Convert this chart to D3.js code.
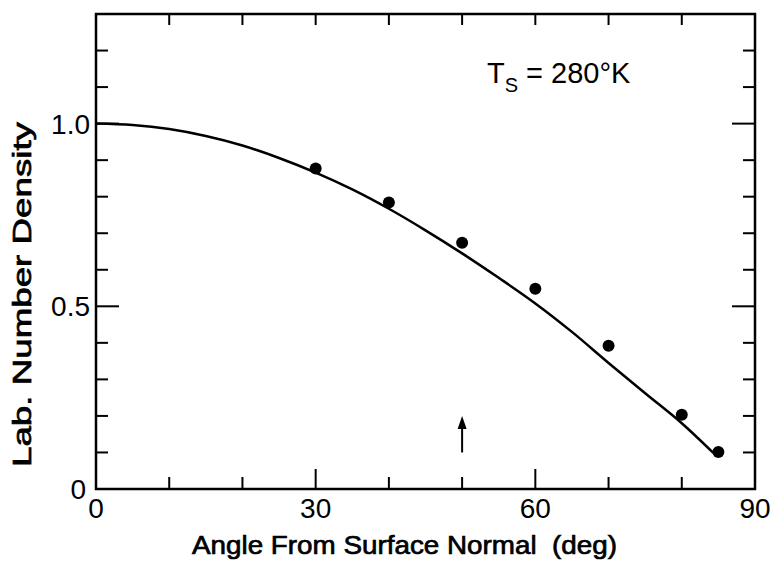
<!DOCTYPE html>
<html lang="en">
  <head>
    <meta charset="utf-8">
    <title>Lab. Number Density</title>
    <script src="https://cdnjs.cloudflare.com/ajax/libs/d3/7.8.5/d3.min.js"></script>
    <style type="text/css">
      body { margin: 0; background: #fff; }
      text { font-family: "Liberation Sans", Arial, sans-serif; fill: #000; }
    </style>
  </head>
  <body>
    <script type="text/javascript">
    // chart values
    var angles = [30, 40, 50, 60, 70, 80, 85];
    var density = [0.877, 0.784, 0.674, 0.548, 0.392, 0.203, 0.101];

    // the solid theory curve
    var curveAngles = [0, 5, 10, 15, 20, 25, 30, 35, 40, 45, 50, 55, 60, 65, 70, 75, 80, 84.3];
    var curveDensity = [1.0, 0.996, 0.985, 0.966, 0.94, 0.906, 0.866, 0.82, 0.767, 0.708, 0.645, 0.578, 0.508, 0.43, 0.345, 0.262, 0.18, 0.099];

    var xTickLabels = [0, 30, 60, 90];
    var yTickLabels = [0, 0.5, 1.0];
    var arrowAt = [50, 0.1, 0.2];  // angle, from, to

    var w = 772;
    var h = 561;

    var x = d3.scaleLinear().domain([0, 90]).range([96, 755]);
    var y = d3.scaleLinear().domain([0, 1.3]).range([489, 14]);

    var svg = d3.select("body")
                .append("svg")
                .attr("width", w)
                .attr("height", h);

    var xMinor = d3.range(0, 91, 10);
    var yMinor = d3.range(0, 13).map(function(d) { return d / 10; });

    // inward ticks, majors a bit longer
    function xLen(d) { return (d == 30 || d == 60) ? 20 : 12; }
    function yLen(d) { return (Math.abs(d - 0.5) < 1e-6 || Math.abs(d - 1) < 1e-6) ? 23 : 12; }

    var ticks = svg.append("g").attr("stroke", "#000").attr("stroke-width", 2);
    ticks.selectAll(".xb").data(xMinor.slice(1, -1)).enter().append("line")
       .attr("x1", function(d) { return x(d); }).attr("x2", function(d) { return x(d); })
       .attr("y1", y(0)).attr("y2", function(d) { return y(0) - xLen(d); });
    ticks.selectAll(".xt").data(xMinor.slice(1, -1)).enter().append("line")
       .attr("x1", function(d) { return x(d); }).attr("x2", function(d) { return x(d); })
       .attr("y1", y(1.3)).attr("y2", function(d) { return y(1.3) + 11; });
    ticks.selectAll(".yl").data(yMinor.slice(1)).enter().append("line")
       .attr("x1", x(0)).attr("x2", function(d) { return x(0) + yLen(d); })
       .attr("y1", function(d) { return y(d); }).attr("y2", function(d) { return y(d); });
    ticks.selectAll(".yr").data(yMinor.slice(1)).enter().append("line")
       .attr("x1", x(90)).attr("x2", function(d) { return x(90) - yLen(d); })
       .attr("y1", function(d) { return y(d); }).attr("y2", function(d) { return y(d); });

    // frame
    svg.append("rect")
       .attr("x", x(0)).attr("y", y(1.3))
       .attr("width", x(90) - x(0)).attr("height", y(0) - y(1.3))
       .attr("fill", "none").attr("stroke", "#000").attr("stroke-width", 2.5);

    // tick labels
    svg.selectAll(".xl").data(xTickLabels).enter().append("text")
       .attr("x", function(d) { return x(d); })
       .attr("y", 518)
       .attr("text-anchor", "middle")
       .attr("font-size", "28px")
       .text(function(d) { return d; });

    svg.selectAll(".yl").data(yTickLabels).enter().append("text")
       .attr("x", function(d) { return d == 0 ? 86 : 90; })
       .attr("y", function(d) { return y(d) + 10; })
       .attr("text-anchor", "end")
       .attr("font-size", "28px")
       .text(function(d) { return d == 0 ? "0" : d.toFixed(1); });

    // axis titles
    svg.append("text")
       .attr("x", 192).attr("y", 554)
       .attr("font-size", "26px")
       .attr("stroke", "#000").attr("stroke-width", 0.7)
       .attr("textLength", 425)
       .attr("lengthAdjust", "spacingAndGlyphs")
       .attr("xml:space", "preserve")
       .text("Angle From Surface Normal  (deg)");

    svg.append("text")
       .attr("transform", "translate(31,467) rotate(-90)")
       .attr("font-size", "26px")
       .attr("stroke", "#000").attr("stroke-width", 0.7)
       .attr("textLength", 345)
       .attr("lengthAdjust", "spacingAndGlyphs")
       .text("Lab. Number Density");

    // curve
    var line = d3.line()
       .x(function(d) { return x(d[0]); })
       .y(function(d) { return y(d[1]); })
       .curve(d3.curveMonotoneX);

    svg.append("path")
       .datum(d3.zip(curveAngles, curveDensity))
       .attr("d", line)
       .attr("fill", "none")
       .attr("stroke", "#000")
       .attr("stroke-width", 2.5);

    // data points
    svg.selectAll("circle")
       .data(d3.zip(angles, density))
       .enter()
       .append("circle")
       .attr("cx", function(d) { return x(d[0]); })
       .attr("cy", function(d) { return y(d[1]); })
       .attr("r", 6)
       .attr("fill", "#000");

    // arrow
    svg.append("line")
       .attr("x1", x(arrowAt[0])).attr("x2", x(arrowAt[0]))
       .attr("y1", y(arrowAt[1])).attr("y2", y(arrowAt[2]) + 10)
       .attr("stroke", "#000").attr("stroke-width", 2);
    svg.append("path")
       .attr("d", "M" + x(arrowAt[0]) + "," + y(arrowAt[2]) +
                  "L" + (x(arrowAt[0]) - 4.5) + "," + (y(arrowAt[2]) + 13) +
                  "L" + (x(arrowAt[0]) + 4.5) + "," + (y(arrowAt[2]) + 13) + "Z")
       .attr("fill", "#000");

    // temperature label
    var lbl = svg.append("text")
       .attr("x", 487).attr("y", 83)
       .attr("font-size", "29px");
    lbl.append("tspan").text("T");
    lbl.append("tspan").attr("font-size", "20px").attr("dy", 9).text("S");
    lbl.append("tspan").attr("dy", -9).attr("xml:space", "preserve").text(" = 280°K");
    </script>
  </body>
</html>
